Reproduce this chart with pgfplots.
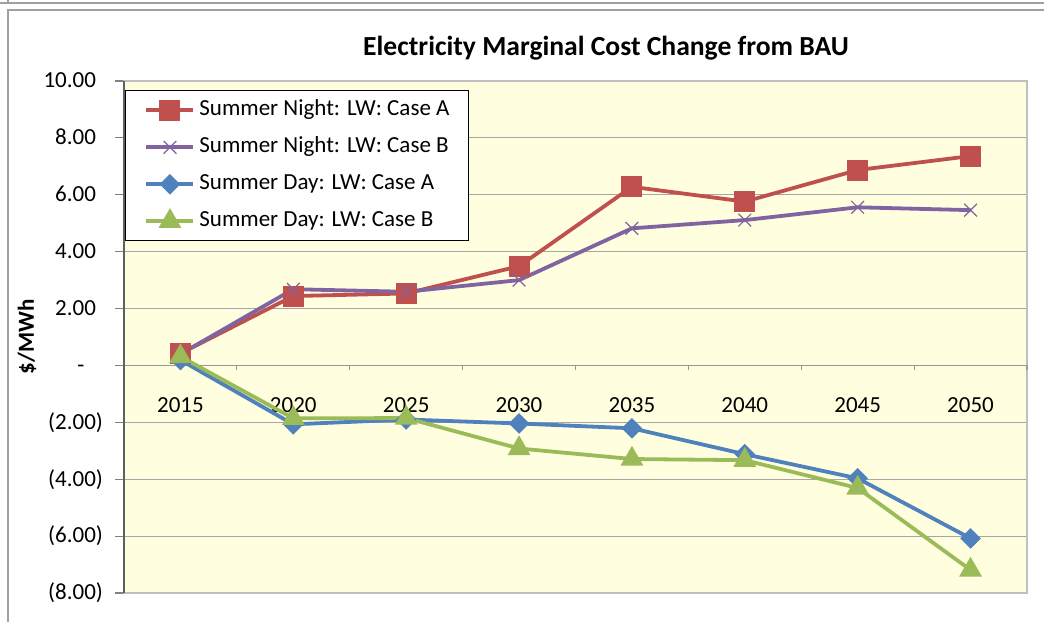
\documentclass[border=0pt]{standalone}
\usepackage{pgfplots}
\pgfplotsset{compat=1.18}
\usepackage{fontspec}
\setmainfont{Carlito}
\definecolor{cRed}{HTML}{C0504D}
\definecolor{cPur}{HTML}{8064A2}
\definecolor{cBlu}{HTML}{4F81BD}
\definecolor{cGrn}{HTML}{9BBB59}
\definecolor{bgY}{HTML}{FFFFE0}
\definecolor{gridC}{HTML}{A6A6A6}
\definecolor{frameC}{HTML}{A0A0A0}
\begin{document}
\begin{tikzpicture}
\path[use as bounding box] (-62pt,-14.5pt) rectangle (460pt,296.5pt);
\draw[frameC, line width=0.6pt] (-58pt,-14.5pt) -- (-58pt,291.5pt) -- (460pt,291.5pt);
\draw[frameC, line width=0.6pt] (-62pt,295pt) -- (460pt,295pt);
\draw[frameC, line width=0.6pt] (-58pt,295pt) -- (-58pt,296.5pt);
\begin{axis}[
  at={(0,0)}, anchor=south west,
  width=451.5pt, height=256pt, scale only axis,
  xmin=0, xmax=8, ymin=-8, ymax=10,
  axis background/.style={fill=bgY},
  axis line style={draw=gray!50, line width=0.6pt},
  tick pos=left,
  tick align=outside,
  major tick length=4.5pt,
  ytick={-8,-6,...,10},
  yticklabels={(8.00),(6.00),(4.00),(2.00),-\phantom{0)},2.00\phantom{)},4.00\phantom{)},6.00\phantom{)},8.00\phantom{)},10.00\phantom{)}},
  yticklabel style={xshift=-2.5pt},
  ytick style={draw=gray, line width=0.6pt},
  ymajorgrids, grid style={draw=gridC, line width=0.6pt},
  xtick={0.5,1.5,...,7.5},
  xticklabels={2015,2020,2025,2030,2035,2040,2045,2050},
  xtick style={draw=none},
  xticklabel style={anchor=center, yshift=98.5pt},
  ticklabel style={font=\fontsize{11.5}{13}\selectfont},
  /pgf/number format/assume math mode=true,
  legend style={at={(axis description cs:0.0011,0.982)}, anchor=north west, draw=black, line width=0.6pt, fill=white,
    font=\fontsize{11.5}{13}\selectfont, row sep=8pt, inner xsep=9.5pt, inner ysep=4.5pt,
    nodes={inner sep=0pt, text height=8pt, text depth=2.5pt},
    /tikz/every odd column/.append style={column sep=2pt}},
  legend cell align=left,
  legend image code/.code={\draw[mark repeat=2,mark phase=2,#1] plot coordinates {(0pt,0pt)(11.75pt,0pt)(23.5pt,0pt)};},
  clip=false,
]
\draw[gray!80, line width=0.7pt] (axis cs:0,0) -- (axis cs:8,0);
\pgfplotsinvokeforeach{1,...,8}{\draw[gray!80, line width=0.6pt] (axis cs:#1,0) -- ([yshift=-2.5pt]axis cs:#1,0);}
\draw[gray!75!black, line width=0.6pt] (axis cs:0,-8) -- (axis cs:0,10);
\addplot[cRed, line width=1.9pt, mark=square*, mark size=4.3pt, mark options={solid}] coordinates {
(0.5,0.42) (1.5,2.44) (2.5,2.53) (3.5,3.49) (4.5,6.28) (5.5,5.76) (6.5,6.87) (7.5,7.36)};
\addlegendentry{Summer Night: LW: Case A}
\addplot[cPur, line width=1.9pt, mark=x, mark size=4.5pt, mark options={solid, line width=0.6pt}] coordinates {
(0.5,0.40) (1.5,2.68) (2.5,2.59) (3.5,3.00) (4.5,4.82) (5.5,5.11) (6.5,5.56) (7.5,5.46)};
\addlegendentry{Summer Night: LW: Case B}
\addplot[cBlu, line width=1.9pt, mark=square*, mark size=2.7pt, mark options={solid, rotate=45}] coordinates {
(0.5,0.19) (1.5,-2.07) (2.5,-1.90) (3.5,-2.04) (4.5,-2.21) (5.5,-3.12) (6.5,-3.97) (7.5,-6.08)};
\addlegendentry{Summer Day: LW: Case A}
\addplot[cGrn, line width=1.9pt, mark=triangle*, mark size=4.7pt, mark options={solid}] coordinates {
(0.5,0.31) (1.5,-1.86) (2.5,-1.85) (3.5,-2.92) (4.5,-3.29) (5.5,-3.33) (6.5,-4.31) (7.5,-7.19)};
\addlegendentry{Summer Day: LW: Case B}
\end{axis}
\node[font=\bfseries\fontsize{13.8}{16}\selectfont] at (241pt,272.5pt) {Electricity Marginal Cost Change from BAU};
\node[font=\bfseries\fontsize{11.5}{13}\selectfont, rotate=90] at (-48.5pt,128pt) {\$/MWh};
\end{tikzpicture}
\end{document}
